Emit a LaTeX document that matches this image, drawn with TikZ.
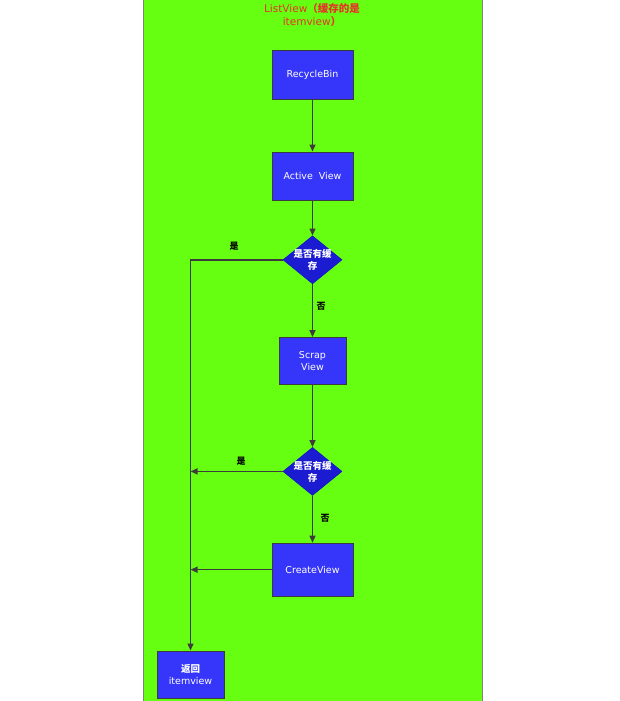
\documentclass[tikz,border=0pt]{standalone}
\usepackage{fontspec}
\setmainfont{DejaVu Sans}
\newfontfamily\cjk{Noto Sans CJK SC}
\usetikzlibrary{positioning,arrows.meta,shapes.geometric}
\definecolor{lvGreen}{RGB}{102,255,17}
\definecolor{lvBlue}{RGB}{54,54,250}
\definecolor{lvDeep}{RGB}{20,20,200}
\definecolor{lvGray}{RGB}{60,60,60}
\definecolor{lvRed}{RGB}{232,50,40}
\tikzset{
    base/.style={font=\fontsize{9.5}{12}\selectfont, align=center},
    stepbox/.style={base, rectangle, draw=lvGray, line width=1pt, fill=lvBlue,
                    text=white, minimum width=81pt, minimum height=48pt},
    decision/.style={base, diamond, draw=lvDeep, line width=0.6pt, fill=lvDeep!80!lvBlue,
                     text=white, inner sep=-3pt, shape aspect=1.25,
                     minimum width=59pt, minimum height=48pt},
    flow/.style={-{Triangle[length=7pt,width=6pt]}, line width=1.4pt, color=lvGray},
    label/.style={font=\cjk\bfseries\fontsize{9}{10}\selectfont, text=black}
}

\begin{document}
\begin{tikzpicture}[x=1pt,y=-1pt]
  \useasboundingbox (0,0) rectangle (619,701);
  % Background panel
  \draw[fill=lvGreen, draw=gray] (143,-2) rectangle (482,703);

  % Title
  \node[base, text=lvRed, font=\fontsize{10.5}{12.5}\selectfont] (title) at (312,15)
    {ListView{\cjk\bfseries（缓存的是}\\itemview{\cjk\bfseries）}};

  % Main column
  \node[stepbox] (recycle) at (312.5,75) {RecycleBin};
  \node[stepbox, below=52pt of recycle] (active) {Active~~View};
  \node[decision, below=35pt of active] (ask1) {{\cjk\bfseries 是否有缓}\\{\cjk\bfseries 存}};
  \node[stepbox, minimum width=67pt, minimum height=47pt, below=53pt of ask1] (scrap) {Scrap\\View};
  \node[decision, below=62pt of scrap] (ask2) {{\cjk\bfseries 是否有缓}\\{\cjk\bfseries 存}};
  \node[stepbox, minimum height=53pt, below=47pt of ask2] (create) {CreateView};
  \node[stepbox, minimum width=67pt, minimum height=47pt] (result) at (190.5,674.5) {{\cjk\bfseries 返回}\\itemview};

  % Junctions on the return line
  \coordinate (turn) at (result.north |- ask1.west);
  \coordinate (join2) at (result.north |- ask2.west);
  \coordinate (join3) at (result.north |- create.west);

  % Arrows
  \draw[flow] (recycle) -- (active);
  \draw[flow] (active) -- (ask1);
  \draw[flow] (ask1) -- (scrap);
  \draw[flow] (scrap) -- (ask2);
  \draw[flow] (ask2) -- (create);
  \draw[flow] (ask1.west) -- (turn) -- (result.north);
  \draw[flow] (ask2.west) -- (join2);
  \draw[flow] (create.west) -- (join3);

  % Labels
  \node[label] (yes1) at (234,246) {是};
  \node[label] (no1) at (321,306) {否};
  \node[label] (yes2) at (241,461) {是};
  \node[label] (no2) at (325,518) {否};
\end{tikzpicture}
\end{document}
